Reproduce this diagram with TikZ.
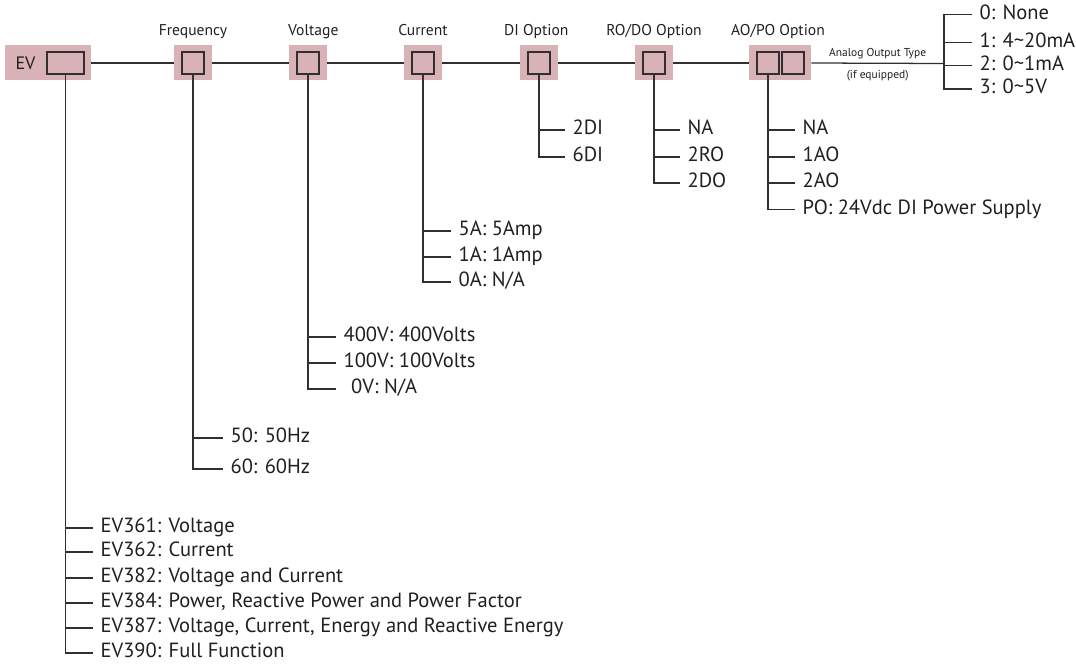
\documentclass[tikz,border=0pt]{standalone}
\usepackage{fontspec}
\setmainfont{PT Sans}
\usepackage{tikz}
\usetikzlibrary{positioning, backgrounds}
\definecolor{evpink}{RGB}{216,178,181}
\definecolor{evline}{RGB}{50,47,48}
\definecolor{evtext}{RGB}{35,31,32}

\begin{document}
\begin{tikzpicture}[
  x=0.75pt, y=-0.75pt,
  line/.style={draw=evline, line width=0.95pt},
  bg/.style={rectangle, fill=evpink, minimum width=28.5pt, minimum height=26.25pt, inner sep=0pt},
  slot/.style={rectangle, draw=evline, line width=1.2pt, fill=evpink,
               minimum width=16.5pt, minimum height=16.5pt, inner sep=0pt},
  title/.style={font=\fontsize{11.7}{13}\selectfont, text=evtext, inner sep=0pt,
                text height=0.75em, text depth=0.22em},
  item/.style={anchor=west, font=\fontsize{15.4}{17}\selectfont, text=evtext,
               text height=0.78em, text depth=0.08em, inner ysep=0pt, inner xsep=5.5pt},
  tiny/.style={font=\fontsize{8.6}{10}\selectfont, text=evtext, inner sep=2pt},
]
  \useasboundingbox (0,0) rectangle (1076,667);

  % code boxes
  \node[bg, minimum width=64.5pt] (evbg) at (48,63) {};
  \node[slot, minimum width=27.75pt] (evslot) at (65.5,63) {};
  \node[font=\fontsize{13.5}{15}\selectfont, text=evtext] (evtxt) at (25.5,63) {EV};
  \node[bg] (freqbg) at (193,63) {};
  \node[slot] (freq) at (193,63) {};
  \node[bg] (voltbg) at (308,63) {};
  \node[slot] (volt) at (308,63) {};
  \node[bg] (currbg) at (423,63) {};
  \node[slot] (curr) at (423,63) {};
  \node[bg] (dibg) at (539,63) {};
  \node[slot] (di) at (539,63) {};
  \node[bg] (robg) at (654,63) {};
  \node[slot] (ro) at (654,63) {};
  \node[bg, minimum width=46.5pt] (aobg) at (780,63) {};
  \node[slot] (ao) at (768,63) {};
  \node[slot] (aotype) at (793,63) {};

  % titles
  \node[title, above=5pt of freqbg] (freqlbl) {Frequency};
  \node[title, above=5pt of voltbg, xshift=4pt] (voltlbl) {Voltage};
  \node[title, above=5pt of currbg] (currlbl) {Current};
  \node[title, above=5pt of dibg, xshift=-2pt] (dilbl) {DI Option};
  \node[title, above=5pt of robg] (rolbl) {RO/DO Option};
  \node[title, above=5pt of aobg, xshift=-1.5pt] (aolbl) {AO/PO Option};

  % main line
  \coordinate (aojoin) at (944,63.5);
  \begin{scope}[on background layer]
    \draw[line] (evbg.east) -- (aobg.west);
  \end{scope}
  \draw[line] (aobg.east) -- node[tiny, above=1pt]{Analog Output Type}
                            node[tiny, below=3pt]{(if equipped)} (aojoin);

  % analog output type
  \node[item] (type0) at (972,14.5) {0: None};
  \node[item] (type1) at (972,42.5) {1: 4\textasciitilde 20mA};
  \node[item] (type2) at (972,65.5) {2: 0\textasciitilde 1mA};
  \node[item] (type3) at (972,89) {3: 0\textasciitilde 5V};
  \draw[line] (type0.west) -| (aojoin) |- (type3.west)
              (type1.west -| aojoin) -- (type1.west)
              (type2.west -| aojoin) -- (type2.west);

  % AO/PO option
  \node[item] (ao0) at (795,130) {NA};
  \node[item] (ao1) at (795,157) {1AO};
  \node[item] (ao2) at (795,183) {2AO};
  \node[item] (ao3) at (795,209.5) {PO: 24Vdc DI Power Supply};
  \draw[line] (ao.south) |- (ao3.west)
              (ao.south |- ao0.west) -- (ao0.west)
              (ao.south |- ao1.west) -- (ao1.west)
              (ao.south |- ao2.west) -- (ao2.west);

  % RO/DO option
  \node[item] (ro0) at (680,130) {NA};
  \node[item] (ro1) at (680,157) {2RO};
  \node[item] (ro2) at (680,183) {2DO};
  \draw[line] (ro.south) |- (ro2.west)
              (ro.south |- ro0.west) -- (ro0.west)
              (ro.south |- ro1.west) -- (ro1.west);

  % DI option
  \node[item] (di0) at (565,130) {2DI};
  \node[item] (di1) at (565,157) {6DI};
  \draw[line] (di.south) |- (di1.west)
              (di.south |- di0.west) -- (di0.west);

  % current
  \node[item] (curr0) at (451,231) {5A: 5Amp};
  \node[item] (curr1) at (451,257) {1A: 1Amp};
  \node[item] (curr2) at (451,282) {0A: N/A};
  \draw[line] (curr.south) |- (curr2.west)
              (curr.south |- curr0.west) -- (curr0.west)
              (curr.south |- curr1.west) -- (curr1.west);

  % voltage
  \node[item] (volt0) at (336,337) {400V: 400Volts};
  \node[item] (volt1) at (336,363) {100V: 100Volts};
  \node[item, inner xsep=0pt] (volt2) at (336,389) {\hspace*{28\pgflinewidth}0V: N/A};
  \draw[line] (volt.south) |- (volt2.west)
              (volt.south |- volt0.west) -- (volt0.west)
              (volt.south |- volt1.west) -- (volt1.west);

  % frequency
  \node[item] (freq0) at (223,438) {50: 50Hz};
  \node[item] (freq1) at (223,469) {60: 60Hz};
  \draw[line] (freq.south) |- (freq1.west)
              (freq.south |- freq0.west) -- (freq0.west);

  % model
  \node[item] (ev0) at (93,528) {EV361: Voltage};
  \node[item] (ev1) at (93,552) {EV362: Current};
  \node[item] (ev2) at (93,578) {EV382: Voltage and Current};
  \node[item] (ev3) at (93,603) {EV384: Power, Reactive Power and Power Factor};
  \node[item] (ev4) at (93,628) {EV387: Voltage, Current, Energy and Reactive Energy};
  \node[item] (ev5) at (93,653) {EV390: Full Function};
  \draw[line] (evslot.south) |- (ev5.west)
              (evslot.south |- ev0.west) -- (ev0.west)
              (evslot.south |- ev1.west) -- (ev1.west)
              (evslot.south |- ev2.west) -- (ev2.west)
              (evslot.south |- ev3.west) -- (ev3.west)
              (evslot.south |- ev4.west) -- (ev4.west);
\end{tikzpicture}
\end{document}
